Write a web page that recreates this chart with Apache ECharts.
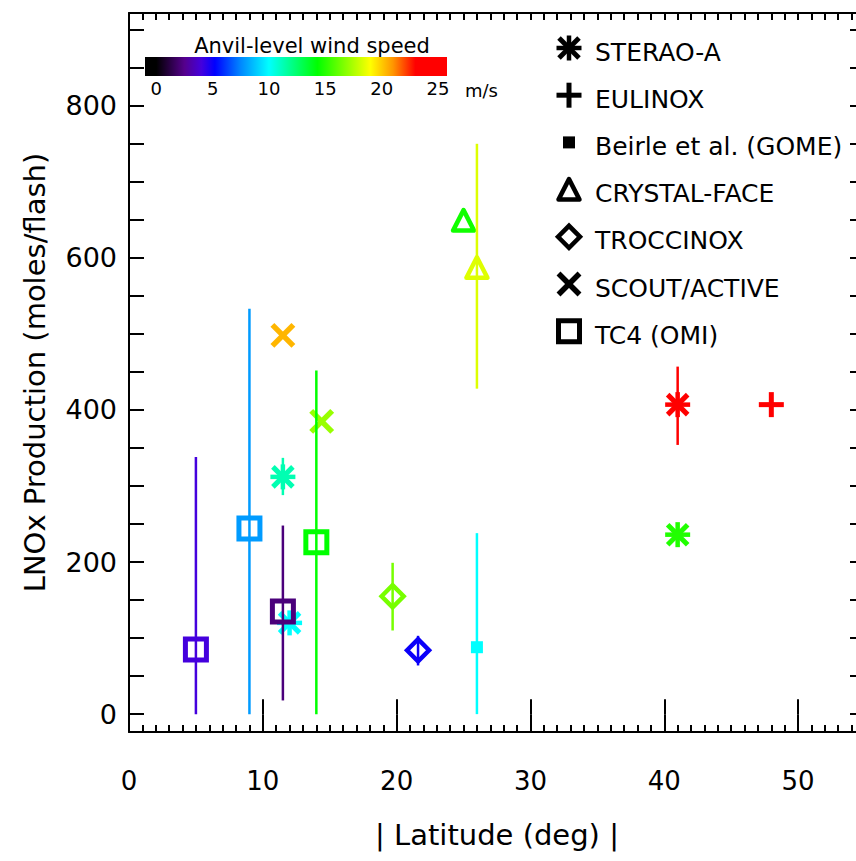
<!DOCTYPE html>
<html><head><meta charset="utf-8">
<script src="https://cdn.jsdelivr.net/npm/echarts@6/dist/echarts.min.js"></script>
<style>html,body{margin:0;padding:0;background:#fff}#chart{width:856px;height:861px}</style>
</head><body><div id="chart"></div>
<script>
// ---------------- data ----------------
const xTickLabels = [0, 10, 20, 30, 40, 50];
const yTickLabels = [0, 200, 400, 600, 800];
const yTickMarks = [0, 50, 100, 150, 200, 250, 300, 350, 400, 450, 500, 550, 600, 650, 700, 750, 800, 850, 900];
const windTickLabels = [0, 5, 10, 15, 20, 25];

const campaignNames = ['STERAO-A', 'EULINOX', 'Beirle et al. (GOME)', 'CRYSTAL-FACE', 'TROCCINOX', 'SCOUT/ACTIVE', 'TC4 (OMI)'];
const campaignMarkers = ['asterisk', 'plus', 'dot', 'triangle', 'diamond', 'cross', 'square'];

// STERAO-A
const steraoLat   = [11.5, 12.0, 41.0, 41.0];
const steraoLnox  = [312, 120, 407, 236];
const steraoErrLo = [288, null, 354, null];
const steraoErrHi = [337, null, 457, null];
const steraoWind  = [11.3, 10.0, 24.0, 14.9];
// EULINOX
const eulinoxLat   = [48.0];
const eulinoxLnox  = [407];
const eulinoxErrLo = [null];
const eulinoxErrHi = [null];
const eulinoxWind  = [24.0];
// Beirle et al. (GOME)
const beirleLat   = [26.0];
const beirleLnox  = [88];
const beirleErrLo = [0];
const beirleErrHi = [238];
const beirleWind  = [10.0];
// CRYSTAL-FACE
const crystalLat   = [25.0, 26.0];
const crystalLnox  = [649, 587];
const crystalErrLo = [null, 428];
const crystalErrHi = [null, 750];
const crystalWind  = [14.6, 18.4];
// TROCCINOX
const troccLat   = [19.7, 21.6];
const troccLnox  = [155, 84];
const troccErrLo = [110, 64];
const troccErrHi = [199, 103];
const troccWind  = [16.5, 5.0];
// SCOUT/ACTIVE
const scoutLat   = [11.5, 14.4];
const scoutLnox  = [498, 385];
const scoutErrLo = [null, null];
const scoutErrHi = [null, null];
const scoutWind  = [20.4, 17.1];
// TC4 (OMI)
const tc4Lat   = [5.0, 9.0, 11.5, 14.0];
const tc4Lnox  = [85, 244, 135, 226];
const tc4ErrLo = [0, 0, 18, 0];
const tc4ErrHi = [338, 533, 248, 452];
const tc4Wind  = [4.0, 7.9, 2.2, 14.3];

const campaignData = [
  [steraoLat, steraoLnox, steraoErrLo, steraoErrHi, steraoWind],
  [eulinoxLat, eulinoxLnox, eulinoxErrLo, eulinoxErrHi, eulinoxWind],
  [beirleLat, beirleLnox, beirleErrLo, beirleErrHi, beirleWind],
  [crystalLat, crystalLnox, crystalErrLo, crystalErrHi, crystalWind],
  [troccLat, troccLnox, troccErrLo, troccErrHi, troccWind],
  [scoutLat, scoutLnox, scoutErrLo, scoutErrHi, scoutWind],
  [tc4Lat, tc4Lnox, tc4ErrLo, tc4ErrHi, tc4Wind]
];

// ---------------- styles ----------------
const FONT = 'DejaVu Sans';
const cbarStart = -1.0, cbarEnd = 25.8;
const cmapStops = [
  [0, [0, 0, 0]],
  [2.5, [85, 0, 140]],
  [4, [68, 0, 221]],
  [5.2, [0, 0, 255]],
  [7.5, [0, 136, 255]],
  [10, [0, 255, 255]],
  [14.3, [0, 255, 0]],
  [19, [255, 255, 0]],
  [21, [255, 150, 0]],
  [23, [255, 0, 0]],
  [25, [255, 0, 0]]
];
function rgb(c) { return 'rgb(' + c.map(v => Math.round(v)).join(',') + ')'; }
function windColor(w) {
  if (w <= cmapStops[0][0]) return rgb(cmapStops[0][1]);
  for (let i = 1; i < cmapStops.length; i++) {
    if (w <= cmapStops[i][0]) {
      const a = cmapStops[i - 1], b = cmapStops[i];
      const t = (w - a[0]) / (b[0] - a[0]);
      return rgb(a[1].map((v, k) => v + (b[1][k] - v) * t));
    }
  }
  return rgb(cmapStops[cmapStops.length - 1][1]);
}

function markerShapes(type, x, y, color) {
  const line = (x1, y1, x2, y2, w) => ({type: 'line', shape: {x1, y1, x2, y2}, style: {stroke: color, lineWidth: w, lineCap: 'butt'}});
  switch (type) {
    case 'square':
      return [{type: 'rect', shape: {x: x - 10.5, y: y - 10.5, width: 21, height: 21}, style: {fill: 'none', stroke: color, lineWidth: 5}}];
    case 'cross':
      return [line(x - 10.5, y - 10.5, x + 10.5, y + 10.5, 5.5), line(x - 10.5, y + 10.5, x + 10.5, y - 10.5, 5.5)];
    case 'plus':
      return [line(x - 12.5, y, x + 12.5, y, 5), line(x, y - 12.5, x, y + 12.5, 5)];
    case 'asterisk':
      return [line(x, y - 12.5, x, y + 12.5, 4.5), line(x - 12.5, y, x + 12.5, y, 4.5),
              line(x - 10, y - 10, x + 10, y + 10, 5), line(x - 10, y + 10, x + 10, y - 10, 5)];
    case 'triangle':
      return [{type: 'polygon', shape: {points: [[x - 10.5, y + 10], [x, y - 10.5], [x + 10.5, y + 10]]}, style: {fill: 'none', stroke: color, lineWidth: 4.5, lineJoin: 'round'}}];
    case 'diamond':
      return [{type: 'polygon', shape: {points: [[x - 11, y], [x, y - 11], [x + 11, y], [x, y + 11]]}, style: {fill: 'none', stroke: color, lineWidth: 4.5, lineJoin: 'miter'}}];
    case 'dot':
      return [{type: 'rect', shape: {x: x - 6, y: y - 6, width: 12, height: 12}, style: {fill: color}}];
  }
  return [];
}

function makeRender(type) {
  return function (params, api) {
    const xv = api.value(0), yv = api.value(1), lo = api.value(2), hi = api.value(3);
    const color = windColor(api.value(4));
    const p = api.coord([xv, yv]);
    const children = [];
    if (lo !== hi) {
      const a = api.coord([xv, lo]), b = api.coord([xv, hi]);
      children.push({type: 'line', shape: {x1: a[0], y1: a[1], x2: b[0], y2: b[1]}, style: {stroke: color, lineWidth: 2.5}});
    }
    children.push(...markerShapes(type, p[0], p[1], color));
    return {type: 'group', children};
  };
}

const series = campaignNames.map((name, ci) => {
  const [lat, lnox, lo, hi, wind] = campaignData[ci];
  return {
    type: 'custom', name, xAxisIndex: 0, yAxisIndex: 0,
    renderItem: makeRender(campaignMarkers[ci]),
    data: lat.map((x, i) => [x, lnox[i], lo[i] == null ? lnox[i] : lo[i], hi[i] == null ? lnox[i] : hi[i], wind[i]]),
    z: 5
  };
});

// colour bar
const gradStops = cmapStops.map(s => ({offset: Math.min(1, Math.max(0, (s[0] - cbarStart) / (cbarEnd - cbarStart))), color: rgb(s[1])}));
gradStops.unshift({offset: 0, color: rgb(cmapStops[0][1])});
series.push({
  type: 'custom', name: 'colorbar', xAxisIndex: 4, yAxisIndex: 2, silent: true,
  data: [[cbarStart, cbarEnd]],
  renderItem: function (params, api) {
    const a = api.coord([api.value(0), 0]), b = api.coord([api.value(1), 1]);
    return {type: 'rect', shape: {x: a[0], y: b[1], width: b[0] - a[0], height: a[1] - b[1]},
      style: {fill: new echarts.graphic.LinearGradient(0, 0, 1, 0, gradStops)}};
  }
});

const blackLine = {color: '#000', width: 2};
const txt = {color: '#000', fontFamily: FONT};

// legend drawn as graphic
const legendX = 569, legendTextX = 595, legendTop = 48, legendGap = 47.2;
const legendGraphics = [];
campaignNames.forEach((name, i) => {
  const y = legendTop + i * legendGap;
  markerShapes(campaignMarkers[i], legendX, y, '#000').forEach(s => legendGraphics.push(s));
  legendGraphics.push({type: 'text', x: legendTextX, y: y + 4, style: {text: name, fontSize: 25, textAlign: 'left', textVerticalAlign: 'middle', fill: '#000', fontFamily: FONT}});
});
legendGraphics.push({type: 'text', x: 312, y: 46, style: {text: 'Anvil-level wind speed', fontSize: 21, textAlign: 'center', textVerticalAlign: 'middle', fill: '#000', fontFamily: FONT}});

const option = {
  animation: false,
  backgroundColor: '#fff',
  grid: [
    {left: 129, top: 13, width: 736, height: 719, containLabel: false, outerBoundsMode: 'none'},
    {left: 145, top: 57, width: 302, height: 19, containLabel: false, outerBoundsMode: 'none'}
  ],
  xAxis: [
    {type: 'value', gridIndex: 0, position: 'bottom', min: 0, max: 55, interval: 1,
      axisLine: {show: true, onZero: false, lineStyle: blackLine},
      axisTick: {show: true, inside: true, length: 7, lineStyle: blackLine},
      axisLabel: {show: true, customValues: xTickLabels, margin: 36, fontSize: 26, ...txt},
      splitLine: {show: false},
      name: '| Latitude (deg) |', nameLocation: 'middle', nameGap: 88, nameTextStyle: {fontSize: 29, ...txt}},
    {type: 'value', gridIndex: 0, position: 'bottom', min: 0, max: 55,
      axisLine: {show: false}, axisLabel: {show: false}, splitLine: {show: false},
      axisTick: {show: true, inside: true, length: 15, customValues: xTickLabels, lineStyle: blackLine}},
    {type: 'value', gridIndex: 0, position: 'top', min: 0, max: 55, interval: 1,
      axisLine: {show: true, onZero: false, lineStyle: blackLine},
      axisTick: {show: true, inside: true, length: 7, lineStyle: blackLine},
      axisLabel: {show: false}, splitLine: {show: false}},
    {type: 'value', gridIndex: 0, position: 'top', min: 0, max: 55,
      axisLine: {show: false}, axisLabel: {show: false}, splitLine: {show: false},
      axisTick: {show: true, inside: true, length: 15, customValues: xTickLabels, lineStyle: blackLine}},
    {type: 'value', gridIndex: 1, position: 'bottom', min: cbarStart, max: cbarEnd,
      axisLine: {show: false}, axisTick: {show: false}, splitLine: {show: false},
      axisLabel: {show: true, customValues: windTickLabels, margin: 3, fontSize: 18, ...txt},
      name: 'm/s', nameLocation: 'end', nameGap: 18,
      nameTextStyle: {fontSize: 18, verticalAlign: 'top', padding: [5, 0, 0, 0], ...txt}}
  ],
  yAxis: [
    {type: 'value', gridIndex: 0, position: 'left', min: -23.5, max: 922,
      axisLine: {show: true, onZero: false, lineStyle: blackLine},
      axisTick: {show: true, inside: true, length: 15, customValues: yTickMarks, lineStyle: blackLine},
      axisLabel: {show: true, customValues: yTickLabels, margin: 12, fontSize: 27, ...txt},
      splitLine: {show: false},
      name: 'LNOx Production (moles/flash)', nameLocation: 'middle', nameRotate: 90, nameGap: 80,
      nameTextStyle: {fontSize: 29, ...txt}},
    {type: 'value', gridIndex: 0, position: 'right', min: -23.5, max: 922,
      axisLine: {show: true, onZero: false, lineStyle: blackLine},
      axisTick: {show: true, inside: true, length: 15, customValues: yTickMarks, lineStyle: blackLine},
      axisLabel: {show: false}, splitLine: {show: false}},
    {type: 'value', gridIndex: 1, min: 0, max: 1, show: false}
  ],
  graphic: legendGraphics,
  series
};

const chart = echarts.init(document.getElementById('chart'), null, {renderer: 'svg'});
chart.setOption(option);
</script></body></html>
